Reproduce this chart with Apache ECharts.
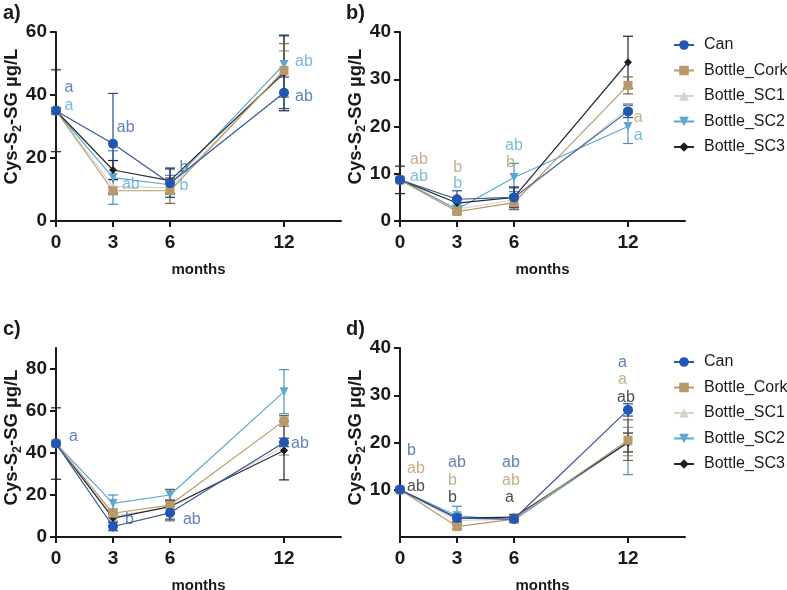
<!DOCTYPE html>
<html>
<head>
<meta charset="utf-8">
<script src="https://cdn.jsdelivr.net/npm/echarts@6/dist/echarts.min.js"></script>
<style>
html,body{margin:0;padding:0;background:#fff;}
#chart{width:787px;height:590px;}
</style>
</head>
<body>
<div id="chart"></div>
<script>
// ---------- DATA ----------
const months = [0, 3, 6, 12];
const seriesNames = ['Can', 'Bottle_Cork', 'Bottle_SC1', 'Bottle_SC2', 'Bottle_SC3'];
const xTickLabels = [0, 3, 6, 12];

// Panel a
const aCan  = [35, 24.5, 12.0, 40.7];
const aCork = [35, 9.6, 9.6, 47.8];
const aSC1  = [35, 11.0, 10.5, 47.5];
const aSC2  = [35, 13.8, 11.5, 49.7];
const aSC3  = [35, 16.2, 12.8, 47.0];
const aCanErr  = [1, 16, 4.5, 5];
const aCorkErr = [1, 1.2, 4, 8.5];
const aSC1Err  = [1, 2, 3, 6.5];
const aSC2Err  = [1, 8.5, 3, 9];
const aSC3Err  = [13, 3, 4, 12];
const aYTicks = [0, 20, 40, 60];
const aLetters = [
  [0.45, 42.2, 'a', 'Can'], [0.45, 36.5, 'a', 'Bottle_SC2'],
  [3.2, 29.8, 'ab', 'Can'], [3.47, 11.4, 'ab', 'Bottle_SC2'],
  [6.5, 17.1, 'b', 'Can'], [6.5, 11.1, 'b', 'Bottle_SC2'],
  [12.58, 50.5, 'ab', 'Bottle_SC2'], [12.58, 39.4, 'ab', 'Can']
];

// Panel b
const bCan  = [8.7, 4.6, 5.0, 23.2];
const bCork = [8.7, 2.0, 3.9, 28.7];
const bSC1  = [8.7, 2.5, 4.5, 23.8];
const bSC2  = [8.7, 2.5, 9.2, 20.0];
const bSC3  = [8.7, 3.8, 5.0, 33.6];
const bCanErr  = [0.5, 1.8, 2, 1.3];
const bCorkErr = [0.5, 0.5, 1.5, 1.8];
const bSC1Err  = [0.5, 0.5, 1, 1];
const bSC2Err  = [0.5, 0.8, 3, 3.6];
const bSC3Err  = [2.9, 1, 2.2, 5.5];
const bYTicks = [0, 10, 20, 30, 40];
const bLetters = [
  [0.53, 12.9, 'ab', 'Bottle_Cork'], [0.53, 9.3, 'ab', 'Bottle_SC2'],
  [2.8, 11.4, 'b', 'Bottle_Cork'], [2.8, 8.0, 'b', 'Bottle_SC2'],
  [5.53, 15.9, 'ab', 'Bottle_SC2'], [5.58, 12.3, 'b', 'Bottle_Cork'],
  [12.3, 21.8, 'a', 'Bottle_Cork'], [12.3, 18.0, 'a', 'Bottle_SC2']
];

// Panel c
const cCan  = [44.5, 5.0, 11.5, 45.0];
const cCork = [44.5, 11.3, 15.2, 55.3];
const cSC1  = [44.5, 10.0, 14.0, 43.0];
const cSC2  = [44.5, 16.0, 20.0, 69.2];
const cSC3  = [44.5, 9.0, 14.5, 41.2];
const cCanErr  = [1, 2, 3, 2];
const cCorkErr = [1, 2, 7.5, 2.5];
const cSC1Err  = [1, 2, 3, 4];
const cSC2Err  = [1, 4, 2.5, 10.5];
const cSC3Err  = [17, 2, 3, 14];
const cYTicks = [0, 20, 40, 60, 80];
const cLetters = [
  [0.68, 48.0, 'a', 'Can'], [3.63, 8.1, 'b', 'Can'],
  [6.68, 8.1, 'ab', 'Can'], [12.37, 44.3, 'ab', 'Can']
];

// Panel d
const dCan  = [10, 4.0, 3.8, 26.9];
const dCork = [10, 2.2, 3.8, 20.5];
const dSC1  = [10, 3.5, 3.7, 20.2];
const dSC2  = [10, 4.5, 3.6, 20.0];
const dSC3  = [10, 4.0, 4.2, 20.0];
const dCanErr  = [0.3, 0.8, 0.6, 1.3];
const dCorkErr = [0.3, 0.5, 0.5, 4.3];
const dSC1Err  = [0.3, 0.6, 0.5, 3];
const dSC2Err  = [0.3, 2, 0.5, 6.8];
const dSC3Err  = [0.3, 0.8, 0.6, 2];
const dYTicks = [10, 20, 30, 40];
const dLetters = [
  [0.37, 18.2, 'b', 'Can'], [0.37, 14.4, 'ab', 'Bottle_Cork'], [0.37, 10.6, 'ab', 'Bottle_SC3'],
  [2.53, 15.7, 'ab', 'Can'], [2.53, 11.9, 'b', 'Bottle_Cork'], [2.53, 8.3, 'b', 'Bottle_SC3'],
  [5.37, 15.7, 'ab', 'Can'], [5.37, 11.9, 'ab', 'Bottle_Cork'], [5.53, 8.3, 'a', 'Bottle_SC3'],
  [11.47, 37.0, 'a', 'Can'], [11.47, 33.4, 'a', 'Bottle_Cork'], [11.42, 29.6, 'ab', 'Bottle_SC3']
];

// ---------- STYLE ----------
const FONT = "'Liberation Sans', Arial, Helvetica, sans-serif";
const style = {
  'Can':         {marker: '#2156b5', line: '#34579b', err: '#2b4a8c', text: '#3a62a8', symbol: 'circle', size: 10},
  'Bottle_Cork': {marker: '#b8996a', line: '#b8996a', err: '#7d6440', text: '#b59a6e', symbol: 'rect', size: 9},
  'Bottle_SC1':  {marker: '#d9d4ca', line: '#d9d4ca', err: '#9c978d', text: '#bdb8ae', symbol: 'triangle', size: 9},
  'Bottle_SC2':  {marker: '#5aa8d2', line: '#5aa8d2', err: '#4a90bb', text: '#5aaad4', symbol: 'path://M0,0 L10,0 L5,9 Z', size: 9},
  'Bottle_SC3':  {marker: '#1e1e1e', line: '#2a2a2a', err: '#222222', text: '#1e1e1e', symbol: 'diamond', size: 8}
};
const drawOrder = ['Bottle_SC1', 'Bottle_SC2', 'Bottle_SC3', 'Bottle_Cork', 'Can'];

const panels = [
  {key: 'a)', vals: {'Can': aCan, 'Bottle_Cork': aCork, 'Bottle_SC1': aSC1, 'Bottle_SC2': aSC2, 'Bottle_SC3': aSC3},
   errs: {'Can': aCanErr, 'Bottle_Cork': aCorkErr, 'Bottle_SC1': aSC1Err, 'Bottle_SC2': aSC2Err, 'Bottle_SC3': aSC3Err},
   yTicks: aYTicks, yMax: 60, letters: aLetters, left: 56, top: 32, nameShift: 20},
  {key: 'b)', vals: {'Can': bCan, 'Bottle_Cork': bCork, 'Bottle_SC1': bSC1, 'Bottle_SC2': bSC2, 'Bottle_SC3': bSC3},
   errs: {'Can': bCanErr, 'Bottle_Cork': bCorkErr, 'Bottle_SC1': bSC1Err, 'Bottle_SC2': bSC2Err, 'Bottle_SC3': bSC3Err},
   yTicks: bYTicks, yMax: 40, letters: bLetters, left: 400, top: 32, nameShift: 20},
  {key: 'c)', vals: {'Can': cCan, 'Bottle_Cork': cCork, 'Bottle_SC1': cSC1, 'Bottle_SC2': cSC2, 'Bottle_SC3': cSC3},
   errs: {'Can': cCanErr, 'Bottle_Cork': cCorkErr, 'Bottle_SC1': cSC1Err, 'Bottle_SC2': cSC2Err, 'Bottle_SC3': cSC3Err},
   yTicks: cYTicks, yMax: 90, letters: cLetters, left: 56, top: 348, nameShift: 10},
  {key: 'd)', vals: {'Can': dCan, 'Bottle_Cork': dCork, 'Bottle_SC1': dSC1, 'Bottle_SC2': dSC2, 'Bottle_SC3': dSC3},
   errs: {'Can': dCanErr, 'Bottle_Cork': dCorkErr, 'Bottle_SC1': dSC1Err, 'Bottle_SC2': dSC2Err, 'Bottle_SC3': dSC3Err},
   yTicks: dYTicks, yMax: 40, letters: dLetters, left: 400, top: 348, nameShift: 10}
];

const grids = [], xAxes = [], yAxes = [], series = [], graphics = [];
const axisCommon = {
  axisLine: {show: true, onZero: false, lineStyle: {color: '#1a1a1a', width: 2}},
  axisTick: {show: true, inside: false, length: 6, lineStyle: {color: '#1a1a1a', width: 2}},
  splitLine: {show: false}
};

panels.forEach((p, i) => {
  grids.push({left: p.left, top: p.top, width: 285, height: 189, containLabel: false, outerBoundsMode: 'none'});
  xAxes.push(Object.assign({}, axisCommon, {
    gridIndex: i, type: 'value', min: 0, max: 15,
    axisTick: Object.assign({}, axisCommon.axisTick, {customValues: xTickLabels}),
    axisLabel: {customValues: xTickLabels, fontFamily: FONT, fontWeight: 'bold', fontSize: 19, color: '#1a1a1a', margin: 12},
    name: 'months', nameLocation: 'middle', nameGap: 41, nameMoveOverlap: false,
    nameTextStyle: {fontFamily: FONT, fontWeight: 'bold', fontSize: 15, color: '#1a1a1a'}
  }));
  yAxes.push(Object.assign({}, axisCommon, {
    gridIndex: i, type: 'value', min: 0, max: p.yMax,
    axisTick: Object.assign({}, axisCommon.axisTick, {customValues: p.yTicks}),
    axisLabel: {customValues: p.yTicks, fontFamily: FONT, fontWeight: 'bold', fontSize: 19, color: '#1a1a1a', margin: 9},
    name: '{n|Cys-S}{s|2}{n|-SG µg/L}', nameLocation: 'middle', nameGap: 32, nameRotate: 90, nameMoveOverlap: false,
    nameTextStyle: {
      padding: [0, 0, 0, p.nameShift],
      rich: {
        n: {fontFamily: FONT, fontWeight: 'bold', fontSize: 18.5, color: '#1a1a1a', lineHeight: 24, verticalAlign: 'middle'},
        s: {fontFamily: FONT, fontWeight: 'bold', fontSize: 12.5, color: '#1a1a1a', lineHeight: 24, verticalAlign: 'bottom'}
      }
    }
  }));

  drawOrder.forEach(name => {
    const st = style[name];
    const vals = p.vals[name], errs = p.errs[name];
    series.push({
      type: 'custom', name: name + '_err', xAxisIndex: i, yAxisIndex: i, silent: true, z: 2,
      data: months.map((m, k) => [m, vals[k] - errs[k], vals[k] + errs[k]]),
      encode: {x: 0, y: [1, 2]},
      renderItem: (params, api) => {
        const x = api.value(0), lo = api.value(1), hi = api.value(2);
        const p1 = api.coord([x, hi]), p2 = api.coord([x, lo]);
        const w = 5;
        const ls = {stroke: st.err, lineWidth: 1.2};
        return {type: 'group', children: [
          {type: 'line', shape: {x1: p1[0], y1: p1[1], x2: p2[0], y2: p2[1]}, style: ls},
          {type: 'line', shape: {x1: p1[0] - w, y1: p1[1], x2: p1[0] + w, y2: p1[1]}, style: ls},
          {type: 'line', shape: {x1: p2[0] - w, y1: p2[1], x2: p2[0] + w, y2: p2[1]}, style: ls}
        ]};
      }
    });
  });
  drawOrder.forEach((name, j) => {
    const st = style[name];
    series.push({
      type: 'line', name: name, xAxisIndex: i, yAxisIndex: i, z: 3 + j,
      data: months.map((m, k) => [m, p.vals[name][k]]),
      symbol: st.symbol, symbolSize: st.size, showSymbol: true,
      itemStyle: {color: st.marker},
      lineStyle: {color: st.line, width: 1.2},
      emphasis: {disabled: true}, animation: false
    });
  });
  series.push({
    type: 'scatter', xAxisIndex: i, yAxisIndex: i, silent: true, z: 20, symbolSize: 0,
    data: p.letters.map(l => ({value: [l[0], l[1]], txt: l[2], label: {color: style[l[3]].text}})),
    label: {show: true, position: 'right', distance: 0, fontFamily: FONT, fontSize: 16,
            formatter: (prm) => prm.data.txt},
    animation: false
  });
  graphics.push({type: 'text', left: p.left === 56 ? 3 : 346, top: p.top - 29,
    style: {text: p.key, fontFamily: FONT, fontWeight: 'bold', fontSize: 20, fill: '#1a1a1a'}});
});

const legendCommon = {
  orient: 'vertical', left: 673, padding: 0, itemWidth: 20, itemHeight: 12, itemGap: 9.5,
  data: seriesNames, selectedMode: false,
  textStyle: {fontFamily: FONT, fontSize: 16, color: '#1a1a1a', padding: [0, 0, 0, 5]}
};

const chart = echarts.init(document.getElementById('chart'), null, {renderer: 'canvas'});
chart.setOption({
  animation: false,
  backgroundColor: '#fff',
  grid: grids, xAxis: xAxes, yAxis: yAxes, series: series, graphic: graphics,
  legend: [Object.assign({}, legendCommon, {top: 37}), Object.assign({}, legendCommon, {top: 354})]
});
</script>
</body>
</html>
